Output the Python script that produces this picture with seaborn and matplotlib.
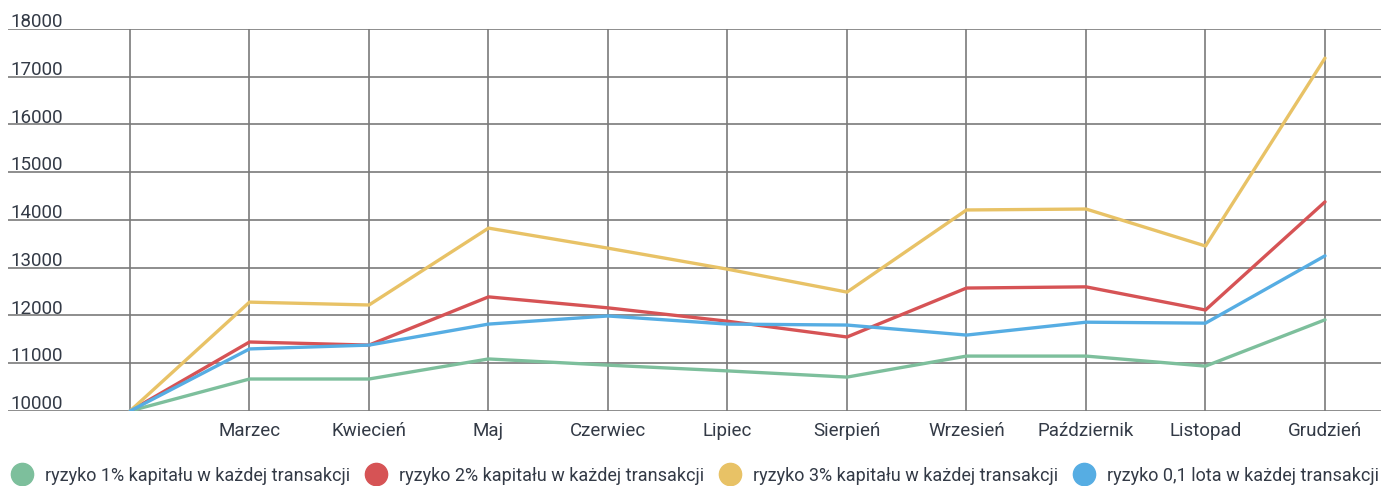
import numpy as np
import pandas as pd
import seaborn as sns
import matplotlib.pyplot as plt
from matplotlib.lines import Line2D
from matplotlib.transforms import ScaledTranslation

# dane
months = ['', 'Marzec', 'Kwiecień', 'Maj', 'Czerwiec', 'Lipiec', 'Sierpień',
          'Wrzesień', 'Październik', 'Listopad', 'Grudzień']
ryzyko_1 = [10000, 10670, 10670, 11090, 10960, 10840, 10710, 11150, 11150, 10940, 11910]
ryzyko_2 = [10000, 11445, 11380, 12390, 12160, 11880, 11550, 12575, 12600, 12115, 14380]
ryzyko_3 = [10000, 12280, 12220, 13830, 13410, 12970, 12490, 14210, 14230, 13455, 17390]
ryzyko_lot = [10000, 11300, 11380, 11820, 11990, 11820, 11800, 11590, 11860, 11840, 13250]
series_names = ['ryzyko 1% kapitału w każdej transakcji',
                'ryzyko 2% kapitału w każdej transakcji',
                'ryzyko 3% kapitału w każdej transakcji',
                'ryzyko 0,1 lota w każdej transakcji']
colors = ['#7dbf9c', '#d65355', '#e8c266', '#56ade3']
yticks = [10000, 11000, 12000, 13000, 14000, 15000, 16000, 17000, 18000]

rows = []
for name, vals in zip(series_names, [ryzyko_1, ryzyko_2, ryzyko_3, ryzyko_lot]):
    for i, v in enumerate(vals):
        rows.append({'x': i, 'wartosc': v, 'seria': name})
df = pd.DataFrame(rows)

sns.set_style('white')
plt.rcParams['font.family'] = ['Roboto', 'DejaVu Sans']
text_color = '#333a46'

fig = plt.figure(figsize=(13.81, 4.86), dpi=100)
ax = fig.add_axes([8 / 1381, 75 / 486, 1 - 8 / 1381, 382 / 486])

sns.lineplot(data=df, x='x', y='wartosc', hue='seria', hue_order=series_names,
             palette=colors, linewidth=2.4, ax=ax, legend=False)

ax.set_xlim(-122 / 119.5, 10 + 56 / 119.5)
ax.set_ylim(10000, 18000)
ax.set_xticks(range(len(months)))
ax.set_xticklabels(months)
ax.set_yticks(yticks)
ax.set_yticklabels([str(t) for t in yticks])
ax.grid(True, color='#7a7a7a', linewidth=1.2)
ax.set_axisbelow(True)
for s in ax.spines.values():
    s.set_visible(False)
ax.set_xlabel('')
ax.set_ylabel('')
ax.tick_params(axis='x', length=0, pad=8, labelsize=13.5, labelcolor=text_color)
ax.tick_params(axis='y', length=0, pad=-2, labelsize=13.5, labelcolor=text_color)
# etykiety osi Y nad liniami siatki
for lab in ax.get_yticklabels():
    lab.set_horizontalalignment('left')
    lab.set_verticalalignment('bottom')
    lab.set_transform(lab.get_transform() + ScaledTranslation(0, -1.5 / 72, fig.dpi_scale_trans))

handles = [Line2D([], [], marker='o', linestyle='', markersize=16, color=c) for c in colors]
fig.legend(handles, series_names, loc='lower left', bbox_to_anchor=(4 / 1381, -6 / 486),
           ncol=4, frameon=False, fontsize=13, handlelength=1.2, handletextpad=0.66,
           columnspacing=0.85, labelcolor=text_color, borderaxespad=0.0, borderpad=0.4)

fig.savefig('out.png', dpi=100)
